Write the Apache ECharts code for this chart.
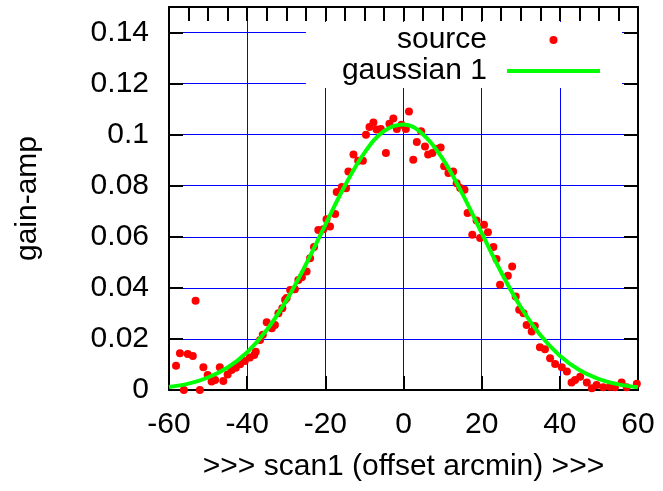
<!DOCTYPE html>
<html>
<head>
    <meta charset="UTF-8">
    <script src="https://cdn.jsdelivr.net/npm/echarts@6/dist/echarts.min.js"></script>
    <style>
        * {
            margin: 0;
            padding: 0;
        }

        body {
            background-color: #fff;
        }

        #chart {
            width: 663px;
            height: 491px;
        }
    </style>
    <title>gain-amp</title>
</head>

<body>
    <div id="chart"></div>
</body>
<script>
    // source points (offset arcmin, gain-amp)
    var scanX = [-58.2, -57.2, -56.2, -55.2, -53.9, -53.2, -52.1, -51.2, -50.1, -49.1, -48.2, -47.0, -46.1, -45.0, -44.0,
        -42.9, -41.8, -40.6, -39.3, -38.2, -37.8, -36.7, -36.0, -35.0, -33.7, -32.9, -32.0, -31.0, -30.3, -29.9,
        -29.0, -27.8, -26.9, -26.0, -24.8, -23.9, -22.9, -21.8, -20.5, -19.7, -18.8, -17.5, -17.1, -15.8, -14.7,
        -14.1, -12.8, -11.6, -10.4, -9.6, -8.7, -7.7, -6.9, -5.8, -4.5, -3.6, -2.6, -1.7, -0.5, 0.6,
        1.4, 2.5, 3.4, 4.5, 5.5, 6.3, 7.4, 8.5, 9.5, 10.4, 11.5, 12.7, 13.6, 14.5, 15.6,
        16.4, 17.6, 18.7, 19.6, 20.6, 21.6, 23.0, 23.8, 24.7, 26.7, 27.8, 28.7, 29.6, 30.7, 31.5,
        32.8, 33.6, 34.9, 36.2, 37.5, 38.8, 40.5, 41.8, 43.0, 43.9, 45.2, 46.9, 48.2, 49.4, 51.1,
        52.8, 54.1, 55.8, 57.1, 59.7];
    var gainAmp = [0.0095, 0.0144, 0.0000, 0.0141, 0.0133, 0.0350, 0.0000, 0.0089, 0.0059, 0.0033, 0.0039, 0.0089, 0.0035, 0.0061, 0.0078,
        0.0087, 0.0101, 0.0114, 0.0127, 0.0137, 0.0150, 0.0196, 0.0216, 0.0265, 0.0242, 0.0255, 0.0301, 0.0320, 0.0353, 0.0360,
        0.0392, 0.0395, 0.0431, 0.0442, 0.0464, 0.0516, 0.0560, 0.0627, 0.0630, 0.0669, 0.0640, 0.0689, 0.0775, 0.0795, 0.0790,
        0.0856, 0.0922, 0.0898, 0.0898, 0.1000, 0.1030, 0.1048, 0.1020, 0.1022, 0.0928, 0.1043, 0.1063, 0.1022, 0.1039, 0.1022,
        0.1091, 0.0902, 0.0971, 0.1013, 0.0954, 0.0922, 0.0928, 0.0944, 0.0950, 0.0876, 0.0850, 0.0856, 0.0810, 0.0791, 0.0784,
        0.0693, 0.0608, 0.0664, 0.0595, 0.0647, 0.0618, 0.0560, 0.0513, 0.0412, 0.0447, 0.0484, 0.0366, 0.0314, 0.0301, 0.0255,
        0.0229, 0.0251, 0.0167, 0.0160, 0.0124, 0.0102, 0.0089, 0.0072, 0.0029, 0.0039, 0.0052, 0.0029, 0.0007, 0.0020, 0.0011,
        0.0013, 0.0011, 0.0029, 0.0011, 0.0024];

    // fitted curve
    var fitX = [-60, -55, -50, -45, -40, -35, -30, -25, -20, -15, -10, -5, 0, 5, 10, 15, 20, 25, 30, 35, 40, 45, 50, 55, 60];
    var fitY = [0.0012, 0.0025, 0.0049, 0.0088, 0.0148, 0.0235, 0.0350, 0.0491, 0.0647, 0.0800, 0.0929, 0.1014, 0.1040,
        0.1001, 0.0906, 0.0770, 0.0615, 0.0461, 0.0325, 0.0215, 0.0134, 0.0078, 0.0043, 0.0022, 0.0011];

    var xTicks = [-60, -40, -20, 0, 20, 40, 60];

    var srcData = [];
    scanX.forEach(function (x, i) {
        srcData.push([x, gainAmp[i]]);
    });
    var fitData = [];
    fitX.forEach(function (x, i) {
        fitData.push([x, fitY[i]]);
    });

    var font = 'Liberation Sans, Arial, sans-serif';
    var black = '#000';

    function tickStyle() {
        return { inside: true, length: 14, lineStyle: { color: black, width: 2 } };
    }
    function axisLineStyle() {
        return { show: true, onZero: false, lineStyle: { color: black, width: 2 } };
    }

    var myChart = echarts.init(document.getElementById('chart'));
    var option = {
        animation: false,
        textStyle: { fontFamily: font },
        grid: { left: 169, right: 25, top: 7, bottom: 101 },
        legend: {
            orient: 'vertical',
            align: 'right',
            right: 41,
            top: 22,
            padding: [3, 22, 2, 36],
            backgroundColor: '#fff',
            itemWidth: 93,
            itemHeight: 8,
            itemGap: 1,
            textStyle: { fontSize: 30, lineHeight: 30, color: black, fontFamily: font, padding: [0, 15, 0, 0] },
            data: [
                { name: 'source', icon: 'circle', itemStyle: { color: '#ff0000', opacity: 1 } },
                { name: 'gaussian 1', icon: 'path://M0,0H93V4H0Z', itemStyle: { color: '#00ff00', opacity: 1 } }
            ]
        },
        xAxis: [{
            type: 'value',
            min: xTicks[0],
            max: xTicks[xTicks.length - 1],
            interval: 20,
            name: '>>> scan1 (offset arcmin) >>>',
            nameLocation: 'middle',
            nameGap: 62,
            nameTextStyle: { fontSize: 30, color: black },
            axisLine: axisLineStyle(),
            axisTick: tickStyle(),
            axisLabel: { fontSize: 30, color: black, margin: 20 },
            splitLine: { show: true, lineStyle: { color: '#0000ff', width: 1 } }
        }, {
            type: 'value',
            position: 'top',
            min: -60,
            max: 60,
            interval: 5,
            axisLine: axisLineStyle(),
            axisTick: tickStyle(),
            axisLabel: { show: false },
            splitLine: { show: false }
        }],
        yAxis: [{
            type: 'value',
            min: 0,
            max: 0.15,
            interval: 0.02,
            name: 'gain-amp',
            nameLocation: 'middle',
            nameGap: 126,
            nameTextStyle: { fontSize: 30, color: black },
            axisLine: axisLineStyle(),
            axisTick: tickStyle(),
            axisLabel: { fontSize: 30, color: black, margin: 20, showMaxLabel: false },
            splitLine: { show: true, lineStyle: { color: '#0000ff', width: 1 } }
        }, {
            type: 'value',
            position: 'right',
            min: 0,
            max: 0.15,
            interval: 0.02,
            axisLine: axisLineStyle(),
            axisTick: tickStyle(),
            axisLabel: { show: false },
            splitLine: { show: false }
        }],
        series: [
            {
                name: 'source',
                type: 'scatter',
                xAxisIndex: 0,
                yAxisIndex: 0,
                symbol: 'circle',
                symbolSize: 8,
                itemStyle: { color: '#ff0000', opacity: 1 },
                data: srcData,
                z: 2
            },
            {
                name: 'gaussian 1',
                type: 'line',
                xAxisIndex: 0,
                yAxisIndex: 0,
                smooth: 0.4,
                symbol: 'none',
                lineStyle: { color: '#00ff00', width: 4 },
                itemStyle: { color: '#00ff00' },
                data: fitData,
                z: 3
            }
        ]
    };
    myChart.setOption(option);
</script>

</html>
